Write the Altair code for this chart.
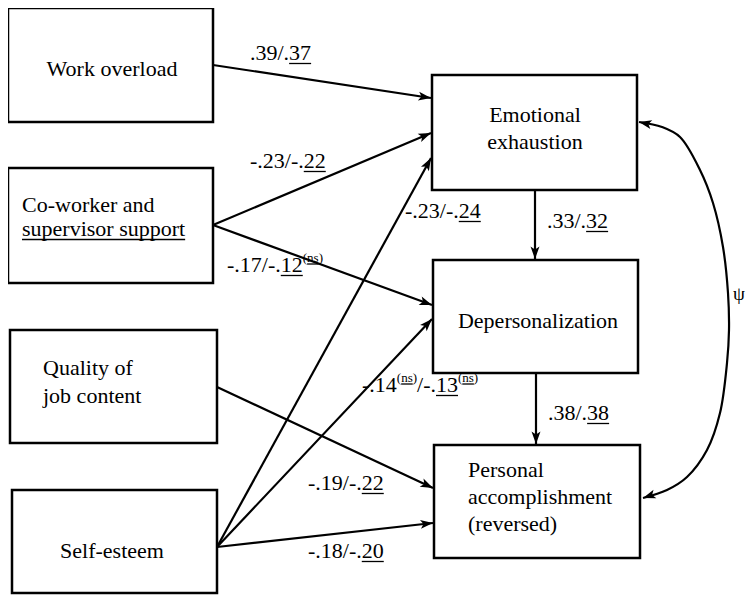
import math
import altair as alt
import pandas as pd

# ---------------- data ----------------
node_ids = ["WO", "CS", "QJ", "SE", "EE", "DP", "PA"]
node_lines = [
    ["Work overload"],
    ["Co-worker and", "supervisor support"],
    ["Quality of", "job content"],
    ["Self-esteem"],
    ["Emotional", "exhaustion"],
    ["Depersonalization"],
    ["Personal", "accomplishment", "(reversed)"],
]
underlined_lines = ["supervisor support"]

edge_from = ["WO", "CS", "CS", "SE", "SE", "QJ", "SE", "EE", "DP"]
edge_to = ["EE", "EE", "DP", "EE", "DP", "PA", "PA", "DP", "PA"]
coef_1 = [".39", "-.23", "-.17", "-.23", "-.14", "-.19", "-.18", ".33", ".38"]
coef_2 = [".37", "-.22", "-.12", "-.24", "-.13", "-.22", "-.20", ".32", ".38"]
ns_1 = [False, False, False, False, True, False, False, False, False]
ns_2 = [False, False, True, False, True, False, False, False, False]
covariance_label = "ψ"

# ---------------- layout (pixel coordinates of the drawing) ----------------
box = {  # x1, x2, y1, y2
    "WO": (8, 213, 8, 122),
    "CS": (8, 213, 168, 283),
    "QJ": (10, 217, 330, 443),
    "SE": (12, 217, 490, 593),
    "EE": (432, 637, 75, 190),
    "DP": (433, 638, 260, 373),
    "PA": (434, 640, 445, 558),
}
# text: (anchor x, align, first baseline, line spacing)
node_text = {
    "WO": (112, "center", 76, 0),
    "CS": (22, "left", 212, 24),
    "QJ": (43, "left", 375, 28),
    "SE": (112, "center", 558, 0),
    "EE": (535, "center", 122, 27),
    "DP": (538, "center", 328, 0),
    "PA": (468, "left", 477, 27),
}
edge_pts = [  # start, end (tip)
    ((213, 65), (431, 98)),
    ((213, 225), (431, 133)),
    ((213, 225), (432, 305)),
    ((217, 547), (431, 158)),
    ((217, 547), (432, 319)),
    ((217, 387), (433, 488)),
    ((217, 547), (433, 523)),
    ((535, 190), (535, 259)),
    ((536, 373), (536, 444)),
]
label_pos = [(250, 60), (250, 168), (227, 272), (405, 218), (362, 392),
             (308, 490), (308, 558), (547, 228), (548, 420)]
curve_x = [639, 662, 680, 700, 713, 723, 728, 729, 727, 720, 707, 687, 667, 643]
curve_y = [122, 127, 137, 170, 203, 247, 293, 330, 363, 413, 450, 477, 490, 498]
psi_pos = (739, 300)

FS = 22
SUP = 13
FONT = "Liberation Serif, Times New Roman, Times, serif"

W = {" ": 250, "(": 333, ")": 333, "-": 333, ".": 250, "/": 278}
for d in "0123456789":
    W[d] = 500
W.update(dict(zip("abcdefghijklmnopqrstuvwxyz",
                  [444, 500, 444, 500, 444, 333, 500, 500, 278, 278, 500, 278, 778,
                   500, 500, 500, 500, 333, 389, 278, 500, 500, 722, 500, 500, 444])))


def tw(s, fs):
    return sum(W.get(c, 500) for c in s) / 1000.0 * fs


# ---------------- build tables ----------------
rect_rows = [dict(x=b[0], x2=b[1], y=b[2], y2=b[3]) for b in (box[n] for n in node_ids)]

line_rows, head_rows = [], []
for (s, e) in edge_pts:
    line_rows.append(dict(x=s[0], y=s[1], x2=e[0], y2=e[1]))
    dx, dy = e[0] - s[0], e[1] - s[1]
    head_rows.append(dict(x=e[0], y=e[1], angle=math.degrees(math.atan2(dx, -dy)) % 360))

curve_rows = [dict(x=a, y=b, i=i) for i, (a, b) in enumerate(zip(curve_x, curve_y))]
for (p, q) in [(1, 0), (len(curve_x) - 2, len(curve_x) - 1)]:
    dx = curve_x[q] - curve_x[p]
    dy = curve_y[q] - curve_y[p]
    head_rows.append(dict(x=curve_x[q], y=curve_y[q],
                          angle=math.degrees(math.atan2(dx, -dy)) % 360))

center_text, left_text, ul_rows = [], [], []
for n, lines in zip(node_ids, node_lines):
    ax, al, b0, sp = node_text[n]
    for j, ln in enumerate(lines):
        row = dict(x=ax, y=b0 + j * sp, t=ln, fs=FS)
        (center_text if al == "center" else left_text).append(row)
        if ln in underlined_lines:
            w = tw(ln, FS)
            x0 = ax if al == "left" else ax - w / 2
            ul_rows.append(dict(x=x0, x2=x0 + w, y=b0 + j * sp + 3.5))

for k in range(len(edge_from)):
    x, y0 = label_pos[k]
    segs = [(coef_1[k], False, False)]
    if ns_1[k]:
        segs += [("(", False, True), ("ns", True, True), (")", False, True)]
    segs.append(("/", False, False))
    pre = coef_2[k][: coef_2[k].index(".") + 1]
    segs.append((pre, False, False))
    segs.append((coef_2[k][len(pre):], True, False))
    if ns_2[k]:
        segs += [("(", False, True), ("ns", True, True), (")", False, True)]
    for txt, ul, sup in segs:
        fs = SUP if sup else FS
        yy = y0 - 10 if sup else y0
        w = tw(txt, fs)
        left_text.append(dict(x=x, y=yy, t=txt, fs=fs))
        if ul:
            ul_rows.append(dict(x=x, x2=x + w, y=yy + (2 if sup else 3.5)))
        x += w

center_text.append(dict(x=psi_pos[0], y=psi_pos[1], t=covariance_label, fs=19))

# ---------------- chart ----------------
xs = alt.Scale(domain=[8, 746], nice=False, zero=False)
ys = alt.Scale(domain=[8, 595], nice=False, zero=False, reverse=True)


def X(f="x"):
    return alt.X(f"{f}:Q", scale=xs, axis=None)


def Y(f="y"):
    return alt.Y(f"{f}:Q", scale=ys, axis=None)


lines = alt.Chart(pd.DataFrame(line_rows)).mark_rule(color="black", strokeWidth=2.2).encode(
    x=X(), y=Y(), x2="x2:Q", y2="y2:Q")

curve = alt.Chart(pd.DataFrame(curve_rows)).mark_line(
    color="black", strokeWidth=2.2, interpolate="catmull-rom").encode(
    x=X(), y=Y(), order="i:Q")

rects = alt.Chart(pd.DataFrame(rect_rows)).mark_rect(
    fill="white", stroke="black", strokeWidth=2.5).encode(
    x=X(), x2="x2:Q", y=Y(), y2="y2:Q")

heads = alt.Chart(pd.DataFrame(head_rows)).mark_point(
    shape="M0,0L-0.75,2.1L0,1.6L0.75,2.1Z", filled=True, size=144, color="black",
    opacity=1, strokeWidth=0).encode(
    x=X(), y=Y(), angle=alt.Angle("angle:Q", scale=None))

ctext = alt.Chart(pd.DataFrame(center_text)).mark_text(
    font=FONT, align="center", baseline="alphabetic", color="black").encode(
    x=X(), y=Y(), text="t:N", size=alt.Size("fs:Q", scale=None))

ltext = alt.Chart(pd.DataFrame(left_text)).mark_text(
    font=FONT, align="left", baseline="alphabetic", color="black").encode(
    x=X(), y=Y(), text="t:N", size=alt.Size("fs:Q", scale=None))

ulines = alt.Chart(pd.DataFrame(ul_rows)).mark_rule(color="black", strokeWidth=1.3).encode(
    x=X(), x2="x2:Q", y=Y())

chart = alt.layer(lines, curve, rects, heads, ulines, ctext, ltext).properties(
    width=738, height=587, padding=0,
    autosize=alt.AutoSizeParams(type="none"),
    background="white",
).configure_view(stroke=None)

chart.save("out.html", embed_options={"renderer": "svg", "actions": False})
